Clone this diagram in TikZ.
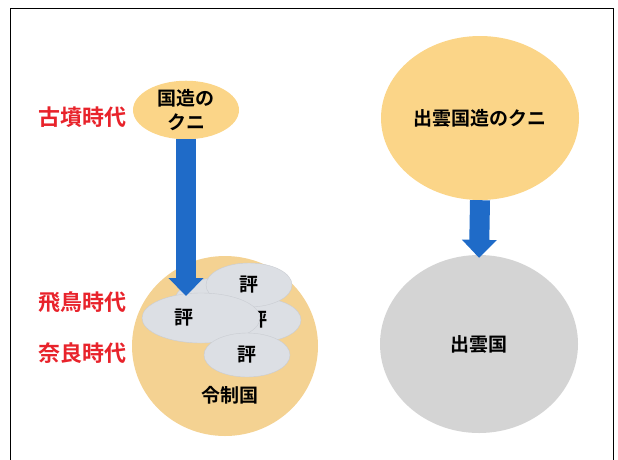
\documentclass[tikz,border=0pt]{standalone}
\usepackage{fontspec}
\setmainfont{Noto Sans CJK JP}[BoldFont={Noto Sans CJK JP Bold}]
\usetikzlibrary{shapes.geometric,arrows.meta,positioning}
\definecolor{erared}{HTML}{E8232B}
\definecolor{kunifill}{HTML}{FBD588}
\definecolor{ryoseifill}{HTML}{F4D292}
\definecolor{hyofill}{HTML}{DCDFE4}
\definecolor{hyoedge}{HTML}{C9CCD2}
\definecolor{izumofill}{HTML}{D4D4D4}
\definecolor{arrowblue}{HTML}{1F6BC8}
\tikzset{
    era/.style = {text=erared, font=\fontsize{22}{24}\selectfont\bfseries},
    kuni/.style = {ellipse, fill=kunifill, inner sep=0pt,
        font=\fontsize{19}{24}\selectfont\bfseries, align=center},
    ryosei/.style = {ellipse, fill=ryoseifill, inner sep=0pt},
    hyo/.style = {ellipse, fill=hyofill, draw=hyoedge, inner sep=0pt,
        minimum width=86pt, minimum height=44pt,
        font=\fontsize{19}{24}\selectfont\bfseries},
    province/.style = {ellipse, fill=izumofill, inner sep=0pt,
        font=\fontsize{19}{24}\selectfont\bfseries},
    caption/.style = {font=\fontsize{19}{24}\selectfont\bfseries},
    bigarrow/.style = {draw=arrowblue, line width=20pt,
        -{Triangle[width=34pt,length=18pt]}}
}
\begin{document}
\begin{tikzpicture}[x=1pt,y=-1pt]
    \useasboundingbox (0,0) rectangle (618,459);
    \draw[line width=1.6pt] (10.5,470) |- (613.5,8.5) -- (613.5,470);

    \node [era] (kofun) at (82,117) {古墳時代};
    \node [era] (asuka) at (82,302) {飛鳥時代};
    \node [era] (nara) at (82,353) {奈良時代};

    \node [ryosei, minimum width=186pt, minimum height=180pt] (ryoseikoku) at (225,346) {};
    \node [hyo] (hyoa) at (218,300) {評};
    \node [hyo] (hyob) at (258,320) {評};
    \node [hyo] (hyoc) at (249,285) {評};
    \node [hyo, minimum width=118pt, minimum height=50pt,
        label={[caption, xshift=-17pt]center:評}] (hyod) at (201,318) {};
    \node [hyo] (hyoe) at (247,355) {評};
    \node [caption] (ryoseitext) at (230,395) {令制国};

    \node [kuni, minimum width=106pt, minimum height=46pt] (kuni) at (186,110) {国造の\\クニ};
    \coordinate (kunitip) at (186,296);
    \draw [bigarrow] (kuni.south) -- (kunitip);

    \node [kuni, minimum width=198pt, minimum height=164pt] (izumokuni) at (480,118) {出雲国造のクニ};
    \node [province, minimum width=198pt, minimum height=178pt] (izumo) at (479,344) {出雲国};
    \draw [bigarrow] (izumokuni.south) -- ([yshift=-3pt]izumo.north);
\end{tikzpicture}
\end{document}
